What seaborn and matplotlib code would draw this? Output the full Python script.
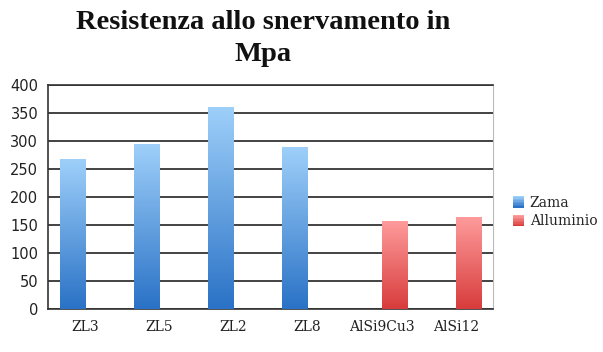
import matplotlib
matplotlib.use("Agg")
import matplotlib.pyplot as plt
import matplotlib.colors as mcolors
import numpy as np
import pandas as pd
import seaborn as sns
from matplotlib.patches import Rectangle
from matplotlib.legend_handler import HandlerBase

categories = ["ZL3", "ZL5", "ZL2", "ZL8", "AlSi9Cu3", "AlSi12"]
series = ["Zama", "Zama", "Zama", "Zama", "Alluminio", "Alluminio"]
values = [268, 295, 361, 290, 158, 165]
hue_order = ["Zama", "Alluminio"]
yticks = [0, 50, 100, 150, 200, 250, 300, 350, 400]

grad = {
    "Zama": ("#2a72c6", "#9fd0fa"),
    "Alluminio": ("#d83c3c", "#ff9c9c"),
}

df = pd.DataFrame({"cat": categories, "serie": series, "val": values})

sns.set_style("white")
plt.rcParams["font.family"] = ["DejaVu Sans"]

fig = plt.figure(figsize=(6.03, 3.52), dpi=100)
ax = fig.add_axes([48 / 603, 1 - 309 / 352, (493 - 48) / 603, (309 - 85) / 352])

sns.barplot(data=df, x="cat", y="val", hue="serie", hue_order=hue_order,
            order=categories, palette={k: v[0] for k, v in grad.items()},
            width=0.68, dodge=True, ax=ax, legend=False, zorder=3)

ax.set_yticks(yticks)
ax.set_yticklabels([str(t) for t in yticks], fontsize=10.5, color="#222222")
ax.set_xlabel("")
ax.set_ylabel("")

# gradient fills clipped to each bar
for cont, name in zip(ax.containers, hue_order):
    cmap = mcolors.LinearSegmentedColormap.from_list("g", list(grad[name]))
    arr = np.linspace(0, 1, 256).reshape(-1, 1)
    for patch in cont.patches:
        h = patch.get_height()
        if not np.isfinite(h) or h <= 0:
            continue
        x0 = patch.get_x()
        w = patch.get_width()
        patch.set_facecolor("none")
        patch.set_edgecolor("none")
        im = ax.imshow(arr, cmap=cmap, origin="lower", aspect="auto",
                       extent=[x0, x0 + w, 0, h], zorder=3)
        im.set_clip_path(patch)
ax.set_xlim(-0.5, len(categories) - 0.5)
ax.set_ylim(0, 400)

ax.yaxis.grid(True, color="#222222", linewidth=1.2, zorder=1)
ax.xaxis.grid(False)
ax.set_axisbelow(True)

ax.spines["top"].set_color("#333333")
ax.spines["top"].set_linewidth(1.2)
ax.spines["right"].set_color("#bbbbbb")
ax.spines["right"].set_linewidth(0.8)
for s in ["left", "bottom"]:
    ax.spines[s].set_color("#333333")
    ax.spines[s].set_linewidth(1.2)

ax.set_xticks(np.arange(len(categories)))
ax.set_xticklabels(categories, fontsize=10, family=["DejaVu Serif"], color="#222222")
ax.tick_params(axis="x", which="major", length=0, pad=8)
ax.set_xticks(np.arange(-0.5, len(categories) + 0.5, 1), minor=True)
ax.tick_params(axis="x", which="minor", length=6, width=1.2, color="#333333", direction="out")
ax.tick_params(axis="y", length=5, width=1.2, color="#333333", direction="out", pad=2)

fig.suptitle("Resistenza allo snervamento in\nMpa", x=0.436, y=0.972,
             fontsize=20.5, fontweight="bold", family=["Liberation Serif"],
             linespacing=1.38, va="top", color="#111111")


class GradHandler(HandlerBase):
    def __init__(self, cols):
        super().__init__()
        self.cols = cols

    def create_artists(self, legend, orig_handle, xdescent, ydescent, width, height, fontsize, trans):
        cb, ct = self.cols
        arts = []
        n = 8
        s = height
        for i in range(n):
            t = i / (n - 1)
            col = tuple(np.array(mcolors.to_rgb(cb)) * (1 - t) + np.array(mcolors.to_rgb(ct)) * t)
            r = Rectangle((-xdescent, -ydescent + s * i / n), s, s / n + 0.2,
                          facecolor=col, edgecolor="none", transform=trans)
            arts.append(r)
        return arts


handles = [Rectangle((0, 0), 1, 1) for _ in hue_order]
fig.legend(handles, hue_order,
           handler_map={h: GradHandler(grad[n]) for h, n in zip(handles, hue_order)},
           loc="center left", bbox_to_anchor=(506 / 603, 1 - 212 / 352),
           frameon=False, prop={"family": "DejaVu Serif", "size": 10},
           handlelength=0.9, handleheight=0.9, handletextpad=0.3,
           labelspacing=0.35, borderpad=0)

fig.savefig("out.png", dpi=100)
